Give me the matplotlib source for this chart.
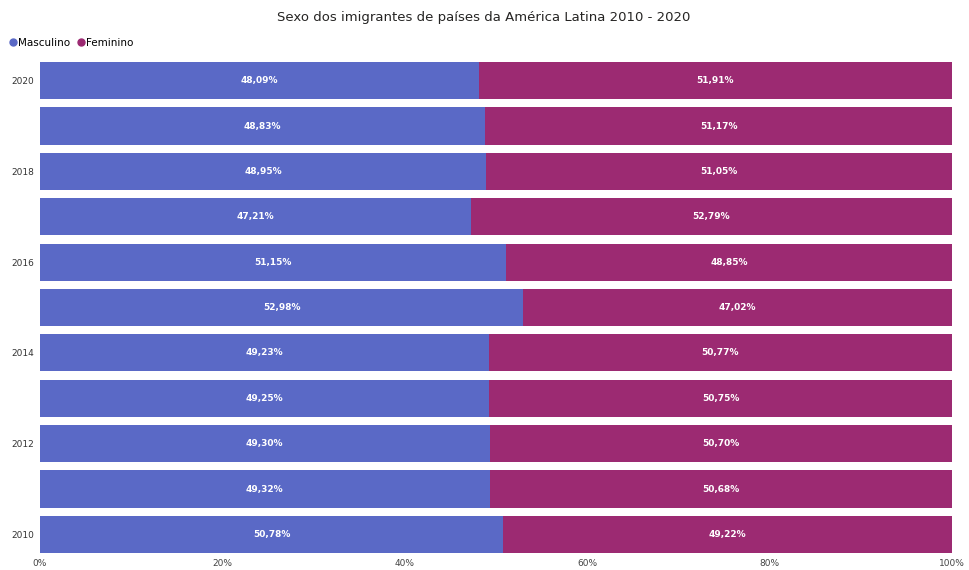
import numpy as np
import matplotlib
matplotlib.use("Agg")
import matplotlib.pyplot as plt
from matplotlib.lines import Line2D

years = [2010, 2011, 2012, 2013, 2014, 2015, 2016, 2017, 2018, 2019, 2020]
masculino = [50.78, 49.32, 49.30, 49.25, 49.23, 52.98, 51.15, 47.21, 48.95, 48.83, 48.09]
feminino = [49.22, 50.68, 50.70, 50.75, 50.77, 47.02, 48.85, 52.79, 51.05, 51.17, 51.91]
xticks = [0, 20, 40, 60, 80, 100]

c_masc = "#5A69C6"
c_fem = "#9C2A72"

fig = plt.figure(figsize=(9.7, 5.7), dpi=100)
ax = fig.add_axes([0.0412, 0.0298, 0.9402, 0.8614])

y = np.arange(len(years))
h = 0.82
ax.barh(y, masculino, height=h, color=c_masc)
ax.barh(y, feminino, left=masculino, height=h, color=c_fem)

def fmt(v):
    return ("%.2f%%" % v).replace(".", ",")

for i in range(len(years)):
    ax.text(masculino[i] / 2, y[i], fmt(masculino[i]), ha="center", va="center",
            color="white", fontsize=6.5, fontweight="bold")
    ax.text(masculino[i] + feminino[i] / 2, y[i], fmt(feminino[i]), ha="center", va="center",
            color="white", fontsize=6.5, fontweight="bold")

ax.set_xlim(0, 100)
ax.set_ylim(-h / 2, len(years) - 1 + h / 2)
ax.set_xticks(xticks)
ax.set_xticklabels(["%d%%" % t for t in xticks], fontsize=6.5, color="#444444")
ev = [i for i, yr in enumerate(years) if yr % 2 == 0]
ax.set_yticks(ev)
ax.set_yticklabels([str(years[i]) for i in ev], fontsize=6.5, color="#333333")
ax.tick_params(length=0, pad=4)
for s in ax.spines.values():
    s.set_visible(False)

fig.text(0.499, 0.97, "Sexo dos imigrantes de países da América Latina 2010 - 2020",
         ha="center", va="center", fontsize=9.5, color="#252423")

handles = [Line2D([], [], marker="o", ls="", color=c_masc, markersize=5),
           Line2D([], [], marker="o", ls="", color=c_fem, markersize=5)]
fig.legend(handles, ["Masculino", "Feminino"], loc="center left", bbox_to_anchor=(0.005, 0.925),
           ncol=2, frameon=False, fontsize=7.5, handletextpad=0.1, columnspacing=0.6,
           handlelength=0.8, borderaxespad=0)

fig.savefig("out.png", dpi=100)
